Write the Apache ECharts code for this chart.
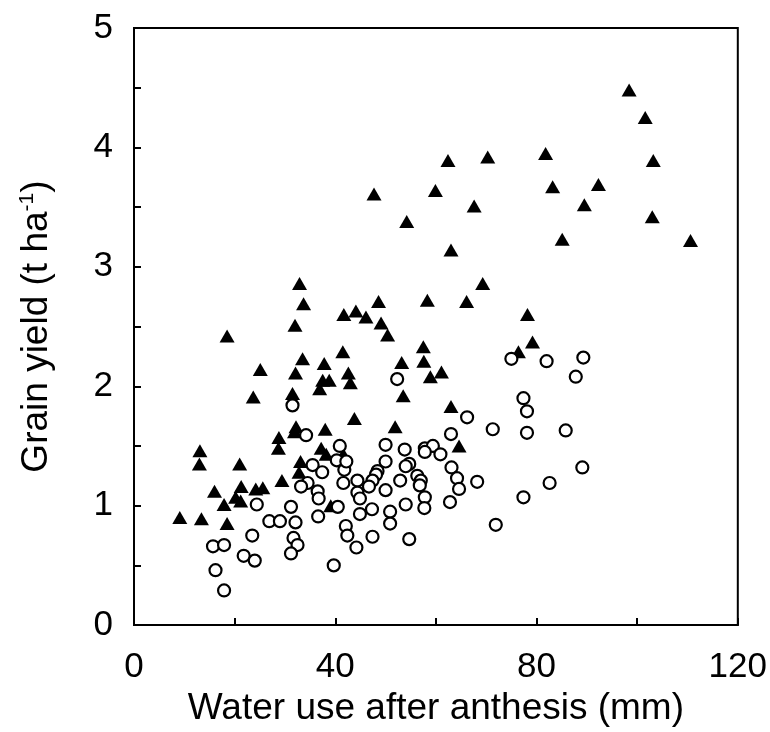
<!DOCTYPE html>
<html>
<head>
<meta charset="utf-8">
<script src="https://cdn.jsdelivr.net/npm/echarts@6/dist/echarts.min.js"></script>
<style>html,body{margin:0;padding:0;background:#fff;}#chart{width:770px;height:732px;}</style>
</head>
<body>
<div id="chart"></div>
<script>
// Axis ticks
var xTicks = [0, 40, 80, 120];
var yTicks = [0, 1, 2, 3, 4, 5];

// Filled triangles: [water use (mm), grain yield (t/ha)]
var triangles = [
  [98.4,4.48],[101.6,4.25],[103.2,3.89],[92.3,3.69],[83.2,3.67],[81.8,3.95],[89.5,3.52],[103.0,3.42],
  [85.1,3.23],[110.6,3.22],[62.4,3.89],[70.3,3.92],[47.7,3.61],[59.9,3.64],[67.6,3.51],[54.2,3.38],
  [63.0,3.14],[69.3,2.86],[48.6,2.71],[58.3,2.72],[66.1,2.71],[41.7,2.60],[44.1,2.63],[46.1,2.58],
  [49.1,2.53],[78.2,2.60],[32.9,2.86],[33.7,2.69],[32.0,2.51],[18.5,2.42],[33.5,2.23],[37.8,2.19],
  [41.5,2.29],[25.1,2.14],[32.1,2.11],[37.5,2.05],[38.8,2.05],[42.6,2.11],[43.0,2.03],[36.9,1.98],
  [31.5,1.94],[23.7,1.91],[32.2,1.66],[31.9,1.62],[38.0,1.64],[28.8,1.57],[28.7,1.48],[13.1,1.46],
  [13.0,1.35],[21.0,1.35],[37.2,1.48],[38.2,1.43],[33.1,1.37],[32.8,1.28],[29.4,1.21],[21.3,1.16],
  [16.0,1.12],[24.2,1.14],[25.6,1.15],[20.2,1.07],[21.2,1.04],[17.9,1.01],[9.1,0.90],[13.4,0.89],
  [18.5,0.85],[39.1,1.00],[50.4,2.43],[57.5,2.33],[53.2,2.20],[57.6,2.21],[58.9,2.08],[61.1,2.12],
  [79.2,2.37],[76.4,2.29],[53.5,1.92],[63.0,1.83],[43.8,1.73],[51.9,1.66],[64.6,1.50],[41.6,1.43]
];

// Open circles: [water use (mm), grain yield (t/ha)]
var circles = [
  [31.5,1.84],[34.2,1.59],[40.9,1.50],[40.3,1.38],[35.5,1.34],[37.4,1.28],[41.8,1.30],[34.5,1.19],
  [33.2,1.16],[36.5,1.12],[41.6,1.19],[36.7,1.06],[24.4,1.01],[31.2,0.99],[40.5,0.99],[26.9,0.87],
  [29.0,0.87],[32.1,0.86],[36.6,0.91],[23.5,0.75],[42.1,0.83],[42.4,0.75],[15.7,0.66],[17.9,0.67],
  [31.7,0.73],[32.5,0.67],[31.2,0.60],[21.8,0.58],[24.0,0.54],[16.2,0.46],[39.7,0.50],[17.9,0.29],
  [52.3,2.06],[75.0,2.23],[82.0,2.21],[77.4,1.90],[78.1,1.79],[66.2,1.74],[71.3,1.64],[78.1,1.61],
  [63.0,1.60],[50.0,1.51],[53.8,1.47],[57.8,1.48],[59.4,1.50],[57.8,1.45],[60.9,1.43],[42.2,1.37],
  [50.0,1.37],[54.7,1.35],[54.0,1.33],[48.4,1.29],[48.1,1.26],[63.1,1.32],[56.3,1.25],[57.0,1.21],
  [56.8,1.17],[64.2,1.23],[52.9,1.21],[47.4,1.21],[44.4,1.21],[68.2,1.20],[82.6,1.19],[64.6,1.14],
  [46.7,1.16],[44.4,1.11],[44.9,1.06],[50.0,1.13],[57.8,1.07],[77.4,1.07],[62.8,1.03],[54.0,1.01],
  [57.7,0.98],[47.3,0.97],[50.9,0.95],[44.9,0.93],[50.9,0.85],[71.9,0.84],[47.4,0.74],[54.7,0.72],
  [44.2,0.65],[89.3,2.24],[87.8,2.08],[85.8,1.63],[89.1,1.32]
];

var FONT = '"Liberation Sans", Arial, sans-serif';
var chart = echarts.init(document.getElementById('chart'), null, {renderer: 'canvas'});
chart.setOption({
  animation: false,
  backgroundColor: '#fff',
  grid: {left: 134, right: 30, top: 28, bottom: 104, show: true, borderColor: '#000', borderWidth: 2, backgroundColor: 'transparent'},
  xAxis: {
    type: 'value', min: 0, max: 120, interval: 20,
    name: 'Water use after anthesis (mm)', nameLocation: 'middle', nameGap: 63,
    nameTextStyle: {fontFamily: FONT, fontSize: 37, color: '#000'},
    axisLine: {show: true, onZero: false, lineStyle: {color: '#000', width: 2}},
    axisTick: {show: true, inside: true, length: 7, lineStyle: {color: '#000', width: 2}},
    axisLabel: {margin: 25, fontFamily: FONT, fontSize: 35, color: '#000',
      formatter: function (v) { return xTicks.indexOf(v) >= 0 ? String(v) : ''; }},
    splitLine: {show: false}
  },
  yAxis: {
    type: 'value', min: 0, max: 5, interval: 0.5,
    name: '{a|Grain yield (t ha}{s|-1}{a|)}', nameLocation: 'middle', nameGap: 77, nameRotate: 90,
    nameTextStyle: {fontFamily: FONT, fontSize: 37, color: '#000',
      rich: {
        a: {fontFamily: FONT, fontSize: 37, color: '#000'},
        s: {fontFamily: FONT, fontSize: 21, color: '#000', verticalAlign: 'top', padding: [0, 0, 19, 0]}
      }},
    axisLine: {show: true, onZero: false, lineStyle: {color: '#000', width: 2}},
    axisTick: {show: true, inside: true, length: 7, lineStyle: {color: '#000', width: 2}},
    axisLabel: {margin: 21, fontFamily: FONT, fontSize: 35, color: '#000',
      formatter: function (v) { return yTicks.indexOf(v) >= 0 ? String(v) : ''; }},
    splitLine: {show: false}
  },
  series: [
    {type: 'scatter', data: triangles, symbol: 'triangle', symbolSize: [15, 13],
      itemStyle: {color: '#000', opacity: 1}, z: 2},
    {type: 'scatter', data: circles, symbol: 'circle', symbolSize: 12,
      itemStyle: {color: '#fff', borderColor: '#000', borderWidth: 2.2, opacity: 1}, z: 3}
  ]
});
</script>
</body>
</html>
